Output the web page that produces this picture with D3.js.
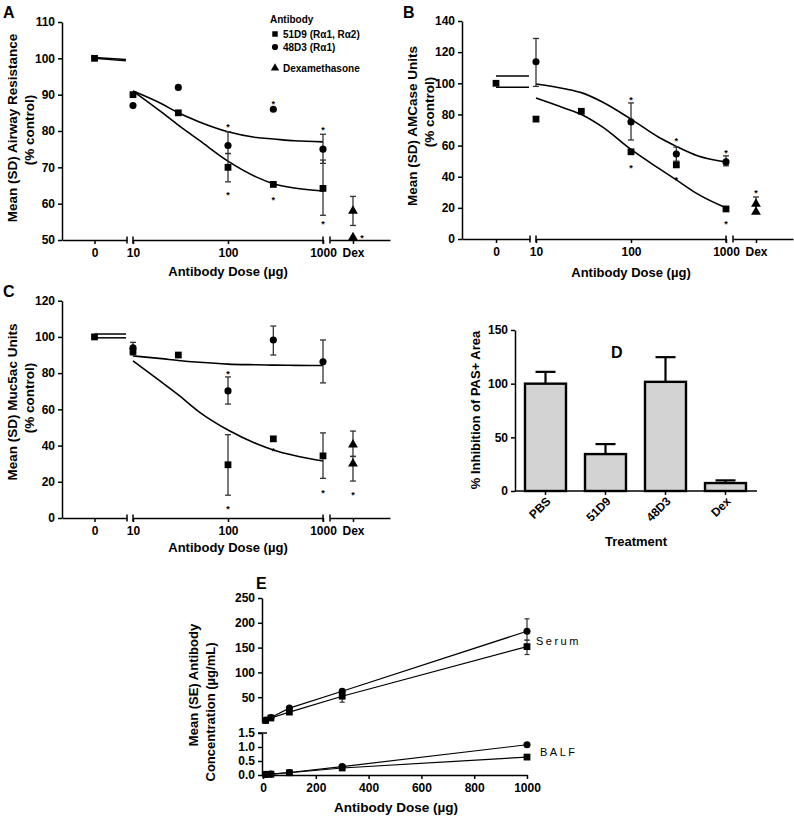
<!DOCTYPE html>
<html><head><meta charset="utf-8">
<script src="https://cdn.jsdelivr.net/npm/d3@7"></script>
<style>
body{margin:0;background:#fff;}
svg{display:block;font-family:"Liberation Sans",Arial,Helvetica,sans-serif;}
</style></head><body>
<script>
// ================= DATA =================
const doses = [10, 30, 100, 300, 1000];
const curveDoses = [10, 20, 30, 50, 100, 200, 300, 500, 1000];
const xTickDoses = [10, 100, 1000];

// Panel A – airway resistance (% control)
const A_yTicks = [50, 60, 70, 80, 90, 100, 110];
const A_control = 100;
const A_51D9 = [90, 85, 70, 65.3, 64.2];
const A_48D3 = [87, 92, 76, 86, 75];
const A_dex = [58, 50.7];
const A_fit51D9 = [91, 85.2, 81.6, 77.4, 71.7, 67.3, 65.5, 64.3, 63.5];
const A_fit48D3 = [91, 87.5, 85, 82.5, 79.8, 78.2, 77.8, 77.3, 77];
const A_base = [[100, 99.3], [100.2, 99.7]];
const A_err51D9 = [null, null, [66, 73.8], null, [56.8, 72]];
const A_err48D3 = [null, null, [73.8, 79.8], null, [71.1, 79.1]];
const A_errDex = [[54, 62]];
const A_starDose = [100, 100, 300, 300, 1000, 1000];
const A_starVal = [81.6, 62.9, 88, 61.5, 80.8, 54.9];
const A_starDex = [51];

// Panel B – AMCase units (% control)
const B_yTicks = [0, 20, 40, 60, 80, 100, 120, 140];
const B_control = 100;
const B_51D9 = [77, 82, 56, 47.6, 19.3];
const B_48D3 = [113.8, null, 75.2, 54.6, 49.5];
const B_dex = [22.5, 17.4];
const B_fit51D9 = [90.5, 84, 80, 72, 57.5, 45, 38, 29, 20];
const B_fit48D3 = [99.5, 96.5, 94, 88, 77, 65, 59.5, 53.5, 49.5];
const B_base = [[104.6, 104.6], [97.4, 97.4]];
const B_err51D9 = [null, null, null, null, null];
const B_err48D3 = [[98, 128.8], null, [63.6, 87.4], [50, 59], [47, 53.4]];
const B_errDex = [[16.7, 27]];
const B_starDose = [100, 100, 300, 300, 1000, 1000];
const B_starVal = [90.4, 46.9, 64, 39, 56.7, 10.7];
const B_starDex = [31];

// Panel C – Muc5ac units (% control)
const C_yTicks = [0, 20, 40, 60, 80, 100, 120];
const C_control = 100;
const C_51D9 = [92, 90, 29.4, 43.7, 34.3];
const C_48D3 = [94, null, 70.2, 98.3, 86.3];
const C_dex = [40.5, 30];
const C_fit51D9 = [86.8, 75, 68, 58.5, 48.6, 41, 37.6, 34.5, 31.5];
const C_fit48D3 = [89.5, 88, 87, 86, 85, 84.6, 84.4, 84.3, 84.2];
const C_base = [[101.6, 101.6], [99.5, 99.5]];
const C_err51D9 = [[90, 97], null, [12.6, 46], null, [21.9, 47]];
const C_err48D3 = [null, null, [62.9, 77.9], [90, 106], [74.6, 98.3]];
const C_errDex = [[34, 48], [20.4, 34]];
const C_starDose = [100, 100, 300, 1000];
const C_starVal = [80.6, 6, 38, 15];
const C_starDex = [14];

// Panel D – % inhibition of PAS+ area
const D_groups = ["PBS", "51D9", "48D3", "Dex"];
const D_values = [100, 34.4, 101.7, 7.4];
const D_errors = [11, 9.3, 23, 2.5];
const D_yTicks = [0, 50, 100, 150];

// Panel E – antibody concentration
const E_xTicks = [0, 200, 400, 600, 800, 1000];
const E_serumTicks = [50, 100, 150, 200, 250];
const E_balfTicks = [0, 0.5, 1.0, 1.5];
const E_serum51D9 = [3, 8, 20, 52, 152];
const E_serum48D3 = [4, 9, 28, 62, 183];
const E_serumErr51D9 = [null, null, null, [40, 60], [136, 165]];
const E_serumErr48D3 = [null, null, null, [58, 66], [165, 208]];
const E_balf51D9 = [0.02, 0.03, 0.08, 0.25, 0.64];
const E_balf48D3 = [0.02, 0.03, 0.09, 0.30, 1.08];

// ================= DRAW =================
const W = 794, H = 819;
const svg = d3.select("body").append("svg").attr("width", W).attr("height", H);

const sqSym = d3.symbol().type(d3.symbolSquare).size(46);
const ciSym = d3.symbol().type(d3.symbolCircle).size(40);
const trSym = d3.symbol().type(d3.symbolTriangle).size(42);

function styleAxis(sel, fs) {
  sel.selectAll("path,line").attr("stroke", "#000").attr("stroke-width", 1.5);
  sel.selectAll("text").attr("font-size", fs || 12).attr("font-weight", "bold").attr("fill", "#000")
     .attr("font-family", '"Liberation Sans",Arial,sans-serif');
}
function vtext(g, x, y, str, fs) {
  g.append("text").attr("transform", `translate(${x},${y}) rotate(-90)`)
    .attr("text-anchor", "middle").attr("font-size", fs).attr("font-weight", "bold").text(str);
}
function htext(g, x, y, str, fs, anchor) {
  return g.append("text").attr("x", x).attr("y", y).attr("text-anchor", anchor || "middle")
    .attr("font-size", fs).attr("font-weight", "bold").text(str);
}
function errBar(g, x, lo, hi, y, cap, color, w) {
  g.append("line").attr("x1", x).attr("x2", x).attr("y1", y(lo)).attr("y2", y(hi))
    .attr("stroke", color).attr("stroke-width", w);
  [lo, hi].forEach(v => g.append("line").attr("x1", x - cap).attr("x2", x + cap)
    .attr("y1", y(v)).attr("y2", y(v)).attr("stroke", color).attr("stroke-width", w));
}
function star(g, x, yv) {
  g.append("text").attr("x", x).attr("y", yv + 5).attr("text-anchor", "middle")
    .attr("font-size", 9).attr("font-weight", "bold").attr("fill", "#000").text("*");
}

function dosePanel(cfg) {
  const g = svg.append("g").attr("transform", `translate(${cfg.ox},0)`);
  const yAx = cfg.yAxisX;
  const y = d3.scaleLinear().domain(cfg.yDomain).range(cfg.yRange);
  const seg0 = d3.scalePoint().domain(["0"]).range([yAx, 127]).padding(0.5);
  const xlog = d3.scaleLog().domain([10, 1000]).range([133, 323]);
  const segDex = d3.scalePoint().domain(["Dex"]).range([330, 390]).padding(0.5).align(0.383);
  const ax = cfg.xAxisY;

  g.append("g").attr("transform", `translate(${yAx},0)`)
    .call(d3.axisLeft(y).tickValues(cfg.yTicks).tickSize(4).tickSizeOuter(0).tickPadding(3))
    .call(s => styleAxis(s, 12));
  g.append("g").attr("transform", `translate(0,${ax})`)
    .call(d3.axisBottom(seg0).tickSize(4).tickSizeOuter(0).tickPadding(4)).call(s => styleAxis(s, 12));
  g.append("g").attr("transform", `translate(0,${ax})`)
    .call(d3.axisBottom(xlog).tickValues(xTickDoses).tickFormat(d3.format("d")).tickSize(4).tickSizeOuter(0).tickPadding(4))
    .call(s => styleAxis(s, 12));
  g.append("g").attr("transform", `translate(0,${ax})`)
    .call(d3.axisBottom(segDex).tickSize(4).tickSizeOuter(0).tickPadding(4)).call(s => styleAxis(s, 12));
  [seg0.range()[1], xlog.range()[0], xlog.range()[1], segDex.range()[0]].forEach(xx =>
    g.append("line").attr("x1", xx).attr("x2", xx).attr("y1", ax - 3.5).attr("y2", ax + 3.5)
      .attr("stroke", "#000").attr("stroke-width", 1.5));

  cfg.base.forEach(b => g.append("line").attr("x1", seg0("0")).attr("x2", seg0.range()[1] - 1)
    .attr("y1", y(b[0])).attr("y2", y(b[1])).attr("stroke", "#000").attr("stroke-width", 1.5));

  const line = d3.line().x(d => xlog(d[0])).y(d => y(d[1])).curve(d3.curveMonotoneX);
  [cfg.fit51D9, cfg.fit48D3].forEach(f => g.append("path")
    .attr("d", line(curveDoses.map((d, i) => [d, f[i]])))
    .attr("fill", "none").attr("stroke", "#000").attr("stroke-width", 1.6));

  doses.forEach((d, i) => {
    if (cfg.err51D9[i]) errBar(g, xlog(d), cfg.err51D9[i][0], cfg.err51D9[i][1], y, 3, "#333", 1.3);
    if (cfg.err48D3[i]) errBar(g, xlog(d), cfg.err48D3[i][0], cfg.err48D3[i][1], y, 3, "#333", 1.3);
  });
  cfg.errDex.forEach(e => errBar(g, segDex("Dex"), e[0], e[1], y, 3, "#333", 1.3));

  g.append("path").attr("d", sqSym).attr("transform", `translate(${seg0("0")},${y(cfg.control)})`);
  doses.forEach((d, i) => {
    if (cfg.s51D9[i] != null) g.append("path").attr("d", sqSym).attr("transform", `translate(${xlog(d)},${y(cfg.s51D9[i])})`);
    if (cfg.s48D3[i] != null) g.append("path").attr("d", ciSym).attr("transform", `translate(${xlog(d)},${y(cfg.s48D3[i])})`);
  });
  cfg.dex.forEach(v => g.append("path").attr("d", trSym).attr("transform", `translate(${segDex("Dex")},${y(v)})`));

  cfg.starDose.forEach((d, i) => star(g, xlog(d), y(cfg.starVal[i])));
  cfg.starDex.forEach(v => star(g, segDex("Dex") + cfg.dexStarDx, y(v)));

  htext(g, 228, cfg.xTitleY, "Antibody Dose (µg)", 13);
  vtext(g, cfg.yt1x, cfg.yt1y, cfg.yTitle, 13.5);
  vtext(g, cfg.yt2x, cfg.yt2y, "(% control)", 13.5);
  return g;
}

dosePanel({ox: 0, yAxisX: 62, yDomain: [50, 110], yRange: [240, 22], yTicks: A_yTicks, xAxisY: 240,
  control: A_control, s51D9: A_51D9, s48D3: A_48D3, dex: A_dex, fit51D9: A_fit51D9, fit48D3: A_fit48D3,
  base: A_base, err51D9: A_err51D9, err48D3: A_err48D3, errDex: A_errDex,
  starDose: A_starDose, starVal: A_starVal, starDex: A_starDex, dexStarDx: 9,
  xTitleY: 276, yTitle: "Mean (SD) Airway Resistance", yt1x: 17, yt1y: 128, yt2x: 34, yt2y: 130});

dosePanel({ox: 403, yAxisX: 59, yDomain: [0, 140], yRange: [239, 21], yTicks: B_yTicks, xAxisY: 239,
  control: B_control, s51D9: B_51D9, s48D3: B_48D3, dex: B_dex, fit51D9: B_fit51D9, fit48D3: B_fit48D3,
  base: B_base, err51D9: B_err51D9, err48D3: B_err48D3, errDex: B_errDex,
  starDose: B_starDose, starVal: B_starVal, starDex: B_starDex, dexStarDx: 0,
  xTitleY: 277, yTitle: "Mean (SD) AMCase Units", yt1x: 14, yt1y: 126, yt2x: 31, yt2y: 112});

dosePanel({ox: 0, yAxisX: 62, yDomain: [0, 120], yRange: [518, 300.7], yTicks: C_yTicks, xAxisY: 518,
  control: C_control, s51D9: C_51D9, s48D3: C_48D3, dex: C_dex, fit51D9: C_fit51D9, fit48D3: C_fit48D3,
  base: C_base, err51D9: C_err51D9, err48D3: C_err48D3, errDex: C_errDex,
  starDose: C_starDose, starVal: C_starVal, starDex: C_starDex, dexStarDx: 0,
  xTitleY: 552, yTitle: "Mean (SD) Muc5ac Units", yt1x: 17, yt1y: 402, yt2x: 34, yt2y: 398});

// Legend in A
(function () {
  const g = svg.append("g");
  htext(g, 270, 23, "Antibody", 10, "start");
  const items = [["51D9 (R\u03b11, R\u03b12)", d3.symbolSquare, 34], ["48D3 (R\u03b11)", d3.symbolCircle, 47], ["Dexamethasone", d3.symbolTriangle, 68]];
  items.forEach(it => {
    g.append("path").attr("d", d3.symbol().type(it[1]).size(30)).attr("transform", `translate(275,${it[2]})`);
    htext(g, 283, it[2] + 3.5, it[0], 10, "start");
  });
})();

// Panel D
(function () {
  const g = svg.append("g");
  const y = d3.scaleLinear().domain([0, 150]).range([491, 330]);
  const x = d3.scaleBand().domain(D_groups).range([515, 756]).paddingInner(0.3167).paddingOuter(0.1667);
  D_groups.forEach((k, i) => {
    const cx = x(k) + x.bandwidth() / 2;
    g.append("line").attr("x1", cx).attr("x2", cx).attr("y1", y(D_values[i])).attr("y2", y(D_values[i] + D_errors[i]))
      .attr("stroke", "#000").attr("stroke-width", 2.2);
    g.append("line").attr("x1", cx - 10).attr("x2", cx + 10).attr("y1", y(D_values[i] + D_errors[i])).attr("y2", y(D_values[i] + D_errors[i]))
      .attr("stroke", "#000").attr("stroke-width", 2.2);
  });
  g.selectAll("rect").data(D_groups).join("rect")
    .attr("x", d => x(d)).attr("width", x.bandwidth())
    .attr("y", (d, i) => y(D_values[i])).attr("height", (d, i) => y(0) - y(D_values[i]))
    .attr("fill", "#d3d3d3").attr("stroke", "#000").attr("stroke-width", 2.4);
  g.append("g").attr("transform", "translate(515,0)")
    .call(d3.axisLeft(y).tickValues(D_yTicks).tickSize(4).tickSizeOuter(0).tickPadding(3)).call(s => styleAxis(s, 12));
  const xa = g.append("g").attr("transform", "translate(0,491)")
    .call(d3.axisBottom(x).tickSize(4).tickSizeOuter(0)).call(s => styleAxis(s, 12));
  xa.select(".domain").attr("d", "M515,0H757");
  xa.selectAll(".tick text").attr("text-anchor", "end").attr("transform", "translate(3,8) rotate(-45)").attr("dy", "0.35em").attr("y", 0).attr("x", 0);
  htext(g, 636, 546, "Treatment", 13);
  vtext(g, 480, 410, "% Inhibition of PAS+ Area", 13);
})();

// Panel E
(function () {
  const g = svg.append("g");
  const x = d3.scaleLinear().domain([0, 1000]).range([263, 527]);
  const yT = d3.scaleLinear().domain([0, 250]).range([722, 598]);
  const yB = d3.scaleLinear().domain([0, 1.5]).range([775, 733]);
  g.append("g").attr("transform", "translate(262,0)")
    .call(d3.axisLeft(yT).tickValues(E_serumTicks).tickSize(4).tickSizeOuter(0).tickPadding(3)).call(s => styleAxis(s, 12));
  g.append("g").attr("transform", "translate(262,0)")
    .call(d3.axisLeft(yB).tickValues(E_balfTicks).tickFormat(d3.format(".1f")).tickSize(4).tickSizeOuter(0).tickPadding(3)).call(s => styleAxis(s, 12));
  g.append("line").attr("x1", 258).attr("x2", 267).attr("y1", yB(1.5)).attr("y2", yB(1.5)).attr("stroke", "#000").attr("stroke-width", 1.5);
  g.append("g").attr("transform", "translate(0,775)")
    .call(d3.axisBottom(x).tickValues(E_xTicks).tickFormat(d3.format("d")).tickSize(4).tickSizeOuter(0).tickPadding(4)).call(s => styleAxis(s, 12));

  const lineT = d3.line().x(d => x(d[0])).y(d => yT(d[1]));
  const lineB = d3.line().x(d => x(d[0])).y(d => yB(d[1]));
  [E_serum51D9, E_serum48D3].forEach(s => g.append("path").attr("d", lineT(doses.map((d, i) => [d, s[i]])))
    .attr("fill", "none").attr("stroke", "#000").attr("stroke-width", 1.2));
  [E_balf51D9, E_balf48D3].forEach(s => g.append("path").attr("d", lineB(doses.map((d, i) => [d, s[i]])))
    .attr("fill", "none").attr("stroke", "#000").attr("stroke-width", 1.2));
  doses.forEach((d, i) => {
    if (E_serumErr51D9[i]) errBar(g, x(d), E_serumErr51D9[i][0], E_serumErr51D9[i][1], yT, 2.5, "#333", 1.2);
    if (E_serumErr48D3[i]) errBar(g, x(d), E_serumErr48D3[i][0], E_serumErr48D3[i][1], yT, 2.5, "#333", 1.2);
    g.append("path").attr("d", sqSym).attr("transform", `translate(${x(d)},${yT(E_serum51D9[i])})`);
    g.append("path").attr("d", ciSym).attr("transform", `translate(${x(d)},${yT(E_serum48D3[i])})`);
    g.append("path").attr("d", sqSym).attr("transform", `translate(${x(d)},${yB(E_balf51D9[i])})`);
    g.append("path").attr("d", ciSym).attr("transform", `translate(${x(d)},${yB(E_balf48D3[i])})`);
  });
  g.append("text").attr("x", 536).attr("y", 645).attr("font-size", 11).attr("letter-spacing", 2.5).text("Serum");
  g.append("text").attr("x", 540).attr("y", 756).attr("font-size", 11).attr("letter-spacing", 2.5).text("BALF");
  htext(g, 396, 812, "Antibody Dose (µg)", 13.5);
  vtext(g, 198, 685, "Mean (SE) Antibody", 13);
  vtext(g, 215, 712, "Concentration (µg/mL)", 13);
})();

// Panel letters
[["A", 3, 18], ["B", 403, 18], ["C", 3, 297], ["D", 611, 358], ["E", 256, 589]].forEach(l =>
  htext(svg, l[1], l[2], l[0], 16, "start"));
</script>
</body></html>
